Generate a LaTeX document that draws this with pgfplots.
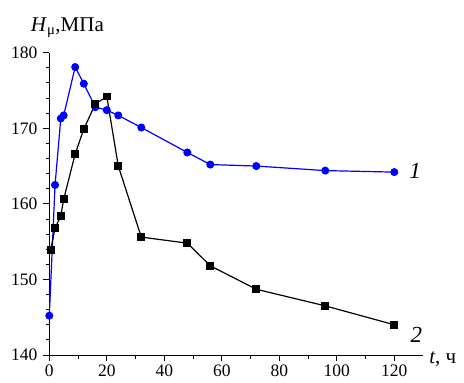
\documentclass[border=0pt]{standalone}
\usepackage{fontspec}
\setmainfont{Liberation Serif}
\usepackage{pgfplots}
\pgfplotsset{compat=1.18}
\begin{document}
\fontsize{17bp}{20bp}\selectfont
\begin{tikzpicture}
\useasboundingbox (-49.3bp,-28bp) rectangle (414.7bp,355bp);
\begin{axis}[
  at={(0,0)}, anchor=south west,
  scale only axis,
  width=373.75bp, height=302.3bp,
  xmin=0, xmax=130, ymin=140, ymax=180,
  axis lines=left,
  axis line style={-, line width=0.9bp},
  clip=false,
  xtick={0,20,...,120},
  ytick={140,150,...,180},
  minor x tick num=1,
  minor y tick num=4,
  tick align=outside,
  major tick length=6bp,
  minor tick length=3.5bp,
  tick style={black, line width=0.9bp},
  ticklabel style={font=\fontsize{17.5bp}{20bp}\selectfont},
  xticklabel style={inner sep=1bp, yshift=-3bp},
  /pgf/number format/assume math mode=true,
  every axis plot/.append style={line width=1.2bp},
]
\addplot[blue, mark=*, mark size=3.4bp, mark options={solid, fill=blue}] coordinates {
(0,145.2) (2,162.5) (4,171.3) (5,171.7) (9,178.1) (12,175.9) (16,172.8) (20,172.4)
(24,171.7) (32,170.1) (48,166.8) (56,165.2) (72,165.0) (96,164.4) (120,164.2)
};
\addplot[black, mark=square*, mark size=3.3bp, mark options={solid, fill=black}] coordinates {
(0.5,153.9) (2,156.8) (4,158.4) (5,160.6) (9,166.6) (12,169.9) (16,173.2) (20,174.2)
(24,165.0) (32,155.6) (48,154.8) (56,151.8) (72,148.7) (96,146.5) (120,144.0)
};
\node[anchor=base west, inner sep=0pt] at (axis cs:125.2,163.4) {\fontsize{23bp}{25bp}\selectfont\textit{1}};
\node[anchor=base west, inner sep=0pt] at (axis cs:125.6,141.7) {\fontsize{23bp}{25bp}\selectfont\textit{2}};
\node[anchor=base west, inner sep=0pt] at ([xshift=6bp, yshift=-8bp]rel axis cs:1,0) {\fontsize{21bp}{24bp}\selectfont\textit{t}, ч};
\node[anchor=base west, inner sep=0pt] at ([xshift=-18.5bp, yshift=21bp]rel axis cs:0,1) {\fontsize{21bp}{24bp}\selectfont\textit{H}\textsubscript{μ},МПа};
\end{axis}
\end{tikzpicture}
\end{document}
